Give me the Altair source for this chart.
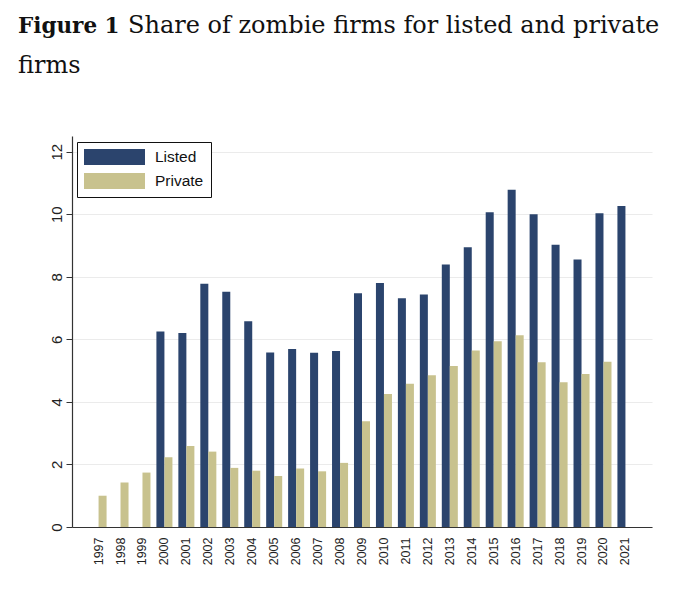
import altair as alt
import pandas as pd

years = list(range(1997, 2022))
listed = [None, None, None, 6.25, 6.2, 7.78, 7.52, 6.58, 5.58, 5.69, 5.57, 5.63,
          7.47, 7.8, 7.31, 7.43, 8.39, 8.94, 10.06, 10.78, 10.0, 9.02, 8.55, 10.03, 10.26]
private = [1.0, 1.42, 1.74, 2.23, 2.59, 2.41, 1.89, 1.8, 1.63, 1.87, 1.78, 2.05,
           3.38, 4.25, 4.58, 4.85, 5.15, 5.64, 5.94, 6.13, 5.27, 4.63, 4.89, 5.28, None]
series = ["Listed", "Private"]
colors = ["#2b446d", "#c8c28e"]
y_ticks = [0, 2, 4, 6, 8, 10, 12]

rows = []
for i, yr in enumerate(years):
    if listed[i] is not None:
        rows.append({"year": str(yr), "group": "Listed", "share": listed[i]})
    if private[i] is not None:
        rows.append({"year": str(yr), "group": "Private", "share": private[i]})
df = pd.DataFrame(rows)

W, H = 580, 391

bars = alt.Chart(df).mark_bar().encode(
    x=alt.X("year:N", sort=[str(y) for y in years],
            scale=alt.Scale(domain=[str(y) for y in years], paddingInner=0.27, paddingOuter=0.845),
            axis=alt.Axis(title=None, labelAngle=270, labelAlign="right", labelBaseline="middle",
                          labelFont="Liberation Sans", labelFontSize=12.5, labelColor="#222",
                          labelPadding=10, ticks=False, domainColor="#333", domainWidth=1.2,
                          grid=False)),
    xOffset=alt.XOffset("group:N", scale=alt.Scale(domain=series, paddingInner=0, paddingOuter=0)),
    y=alt.Y("share:Q", scale=alt.Scale(domain=[0, 12.5], nice=False, zero=True),
            axis=alt.Axis(title=None, values=y_ticks, labelAngle=270, labelAlign="center",
                          labelBaseline="bottom", labelFont="Liberation Sans", labelFontSize=15,
                          labelColor="#222", labelPadding=2, tickSize=6, tickColor="#333",
                          domainColor="#333", domainWidth=1.2, grid=True, gridColor="#ebebeb",
                          gridWidth=1)),
    color=alt.Color("group:N", scale=alt.Scale(domain=series, range=colors),
                    legend=alt.Legend(title=None, orient="none", legendX=5, legendY=6,
                                      symbolType="M-1,-0.262H1V0.262H-1Z", symbolSize=3721,
                                      symbolStrokeWidth=0, labelFont="Liberation Sans",
                                      labelFontSize=15.5, labelColor="#111", labelOffset=10,
                                      fillColor="white", strokeColor="#111", padding=7,
                                      rowPadding=7, symbolOffset=0, clipHeight=16)),
)

title_bold = alt.Chart(alt.Data(values=[{"t": "Figure 1"}])).mark_text(
    align="left", baseline="alphabetic", font="DejaVu Serif", fontSize=21.5, fontWeight="bold",
    color="#111"
).encode(x=alt.value(-54), y=alt.value(-103), text="t:N")

title_rest = alt.Chart(alt.Data(values=[{"t": "Share of zombie firms for listed and private"}])).mark_text(
    align="left", baseline="alphabetic", font="DejaVu Serif", fontSize=24, color="#111"
).encode(x=alt.value(56), y=alt.value(-103), text="t:N")

title_line2 = alt.Chart(alt.Data(values=[{"t": "firms"}])).mark_text(
    align="left", baseline="alphabetic", font="DejaVu Serif", fontSize=24, color="#111"
).encode(x=alt.value(-54), y=alt.value(-63), text="t:N")

chart = alt.layer(bars, title_bold, title_rest, title_line2).properties(
    width=W, height=H,
    padding={"left": 64, "top": 128, "right": 20, "bottom": 60},
    autosize=alt.AutoSizeParams(type="none"),
    background="white",
).configure_view(strokeWidth=0)

chart.save("out.html", embed_options={"renderer": "svg", "actions": False})
